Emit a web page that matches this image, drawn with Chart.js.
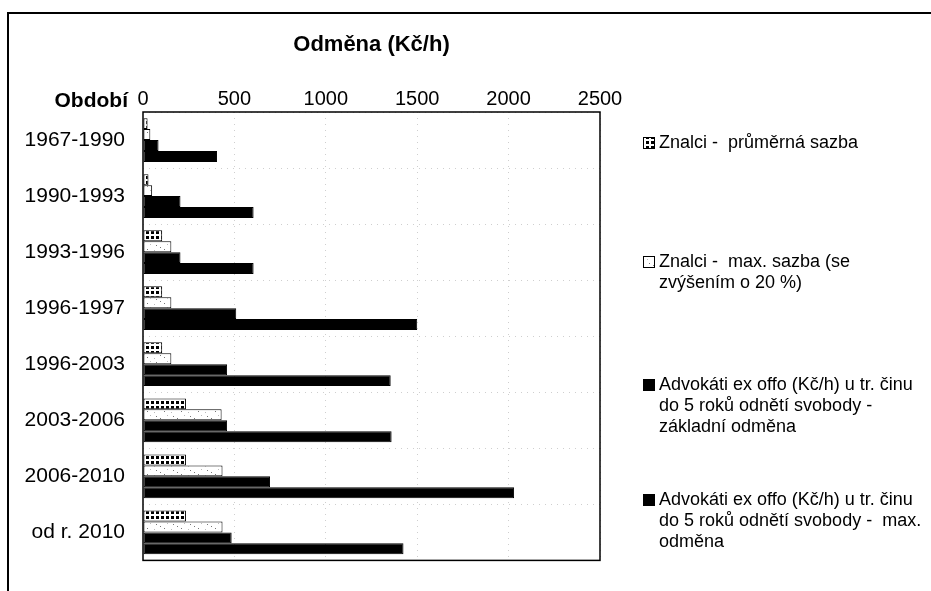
<!DOCTYPE html>
<html>
<head>
<meta charset="utf-8">
<script src="https://cdn.jsdelivr.net/npm/chart.js@4.4.0/dist/chart.umd.min.js"></script>
<style>
  body { margin: 0; background: #fff; }
  #wrap { width: 931px; height: 591px; }
</style>
</head>
<body>
<div id="wrap"><canvas id="odmenaChart" width="931" height="591"></canvas></div>
<script>
const categories = [
  "1967-1990",
  "1990-1993",
  "1993-1996",
  "1996-1997",
  "1996-2003",
  "2003-2006",
  "2006-2010",
  "od r. 2010",
];

const xTicks = [0, 500, 1000, 1500, 2000, 2500];

// legend texts, one array entry per printed line
const seriesLabels = [
  ["Znalci -  průměrná sazba"],
  ["Znalci -  max. sazba (se", "zvýšením o 20 %)"],
  ["Advokáti ex offo (Kč/h) u tr. činu", "do 5 roků odnětí svobody -", "základní odměna"],
  ["Advokáti ex offo (Kč/h) u tr. činu", "do 5 roků odnětí svobody -  max.", "odměna"],
];

const znalciPrumer = [25, 30, 105, 105, 105, 235, 235, 235];
const znalciMax = [40, 50, 155, 155, 155, 430, 435, 435];
const advokatiZaklad = [85, 205, 205, 510, 460, 460, 695, 485];
const advokatiMax = [405, 605, 605, 1500, 1355, 1360, 2030, 1425];

function gridPattern() {
  const c = document.createElement("canvas");
  c.width = 5;
  c.height = 5;
  const g = c.getContext("2d");
  g.fillStyle = "#fff";
  g.fillRect(0, 0, 5, 5);
  g.fillStyle = "#000";
  g.fillRect(1, 1, 3, 3);
  return g.createPattern(c, "repeat");
}

function speckPattern() {
  const c = document.createElement("canvas");
  c.width = 17;
  c.height = 9;
  const g = c.getContext("2d");
  g.fillStyle = "#fff";
  g.fillRect(0, 0, 17, 9);
  g.fillStyle = "#777";
  g.fillRect(3, 2, 1, 1);
  g.fillRect(11, 6, 1, 1);
  g.fillRect(7, 4, 1, 1);
  g.fillStyle = "#bbb";
  g.fillRect(14, 1, 1, 1);
  g.fillRect(1, 7, 1, 1);
  return g.createPattern(c, "repeat");
}

const fills = [gridPattern(), speckPattern(), "#000", "#000"];
const seriesValues = [znalciPrumer, znalciMax, advokatiZaklad, advokatiMax];

const FONT = "'Liberation Sans', Arial, sans-serif";

// frame, plot box, "Období" and the multi-line legend
const decorations = {
  id: "decorations",
  beforeDraw(chart) {
    const ctx = chart.ctx;
    ctx.save();
    ctx.fillStyle = "#fff";
    ctx.fillRect(0, 0, chart.width, chart.height);
    ctx.strokeStyle = "#000";
    ctx.lineWidth = 2;
    ctx.beginPath();
    ctx.moveTo(8, chart.height);
    ctx.lineTo(8, 13);
    ctx.lineTo(chart.width, 13);
    ctx.stroke();
    ctx.restore();
  },
  afterDraw(chart) {
    const ctx = chart.ctx;
    const a = chart.chartArea;
    ctx.save();
    ctx.strokeStyle = "#000";
    ctx.lineWidth = 1.5;
    ctx.strokeRect(a.left, a.top, a.right - a.left, a.bottom - a.top);

    ctx.fillStyle = "#000";
    ctx.font = "bold 21px " + FONT;
    ctx.textAlign = "right";
    ctx.textBaseline = "middle";
    ctx.fillText("Období", 128, 101);

    const itemY = [143, 262, 385, 500];
    ctx.font = "18px " + FONT;
    ctx.textAlign = "left";
    seriesLabels.forEach((lines, i) => {
      const y = itemY[i];
      ctx.fillStyle = fills[i];
      ctx.fillRect(643, y - 6, 12, 12);
      ctx.lineWidth = 1;
      ctx.strokeStyle = "#000";
      ctx.strokeRect(643.5, y - 5.5, 11, 11);
      ctx.fillStyle = "#000";
      lines.forEach((t, j) => ctx.fillText(t, 659, y + j * 21));
    });
    ctx.restore();
  },
};

window.onload = function () {
  const ctx = document.getElementById("odmenaChart").getContext("2d");

  const data = {
    labels: categories,
    datasets: seriesValues.map((vals, i) => ({
      label: seriesLabels[i].join(" "),
      data: vals,
      backgroundColor: fills[i],
      borderColor: "#000",
      borderWidth: 1,
      borderSkipped: false,
      barPercentage: 1.0,
      categoryPercentage: 0.78,
    })),
  };

  const options = {
    indexAxis: "y",
    responsive: false,
    animation: false,
    layout: {
      padding: { left: 0, right: 331, top: 0, bottom: 19 },
    },
    plugins: {
      legend: { display: false },
      title: { display: false },
      tooltip: { enabled: false },
    },
    scales: {
      x: {
        position: "top",
        min: 0,
        max: 2500,
        afterFit: (scale) => {
          scale.height = 112;
        },
        afterBuildTicks: (scale) => {
          scale.ticks = xTicks.map((v) => ({ value: v }));
        },
        ticks: {
          padding: 1,
          color: "#000",
          font: { size: 20, family: FONT },
          callback: (v) => String(v),
        },
        grid: {
          drawTicks: false,
          color: (c) => (c.tick && c.tick.value === 0 ? "rgba(0,0,0,0)" : "#cfcfcf"),
          lineWidth: 1,
        },
        border: { display: false, dash: [1, 5] },
        title: {
          display: true,
          text: "Odměna (Kč/h)",
          color: "#000",
          padding: { top: 32, bottom: 0 },
          font: { size: 22, weight: "bold", family: FONT },
        },
      },
      y: {
        afterFit: (scale) => {
          scale.width = 143;
        },
        ticks: {
          padding: 18,
          color: "#000",
          font: { size: 21, family: FONT },
        },
        grid: {
          offset: true,
          drawTicks: false,
          color: "#cfcfcf",
          lineWidth: 1,
        },
        border: { display: false, dash: [1, 5] },
      },
    },
  };

  new Chart(ctx, {
    type: "bar",
    data: data,
    options: options,
    plugins: [decorations],
  });
};
</script>
</body>
</html>
